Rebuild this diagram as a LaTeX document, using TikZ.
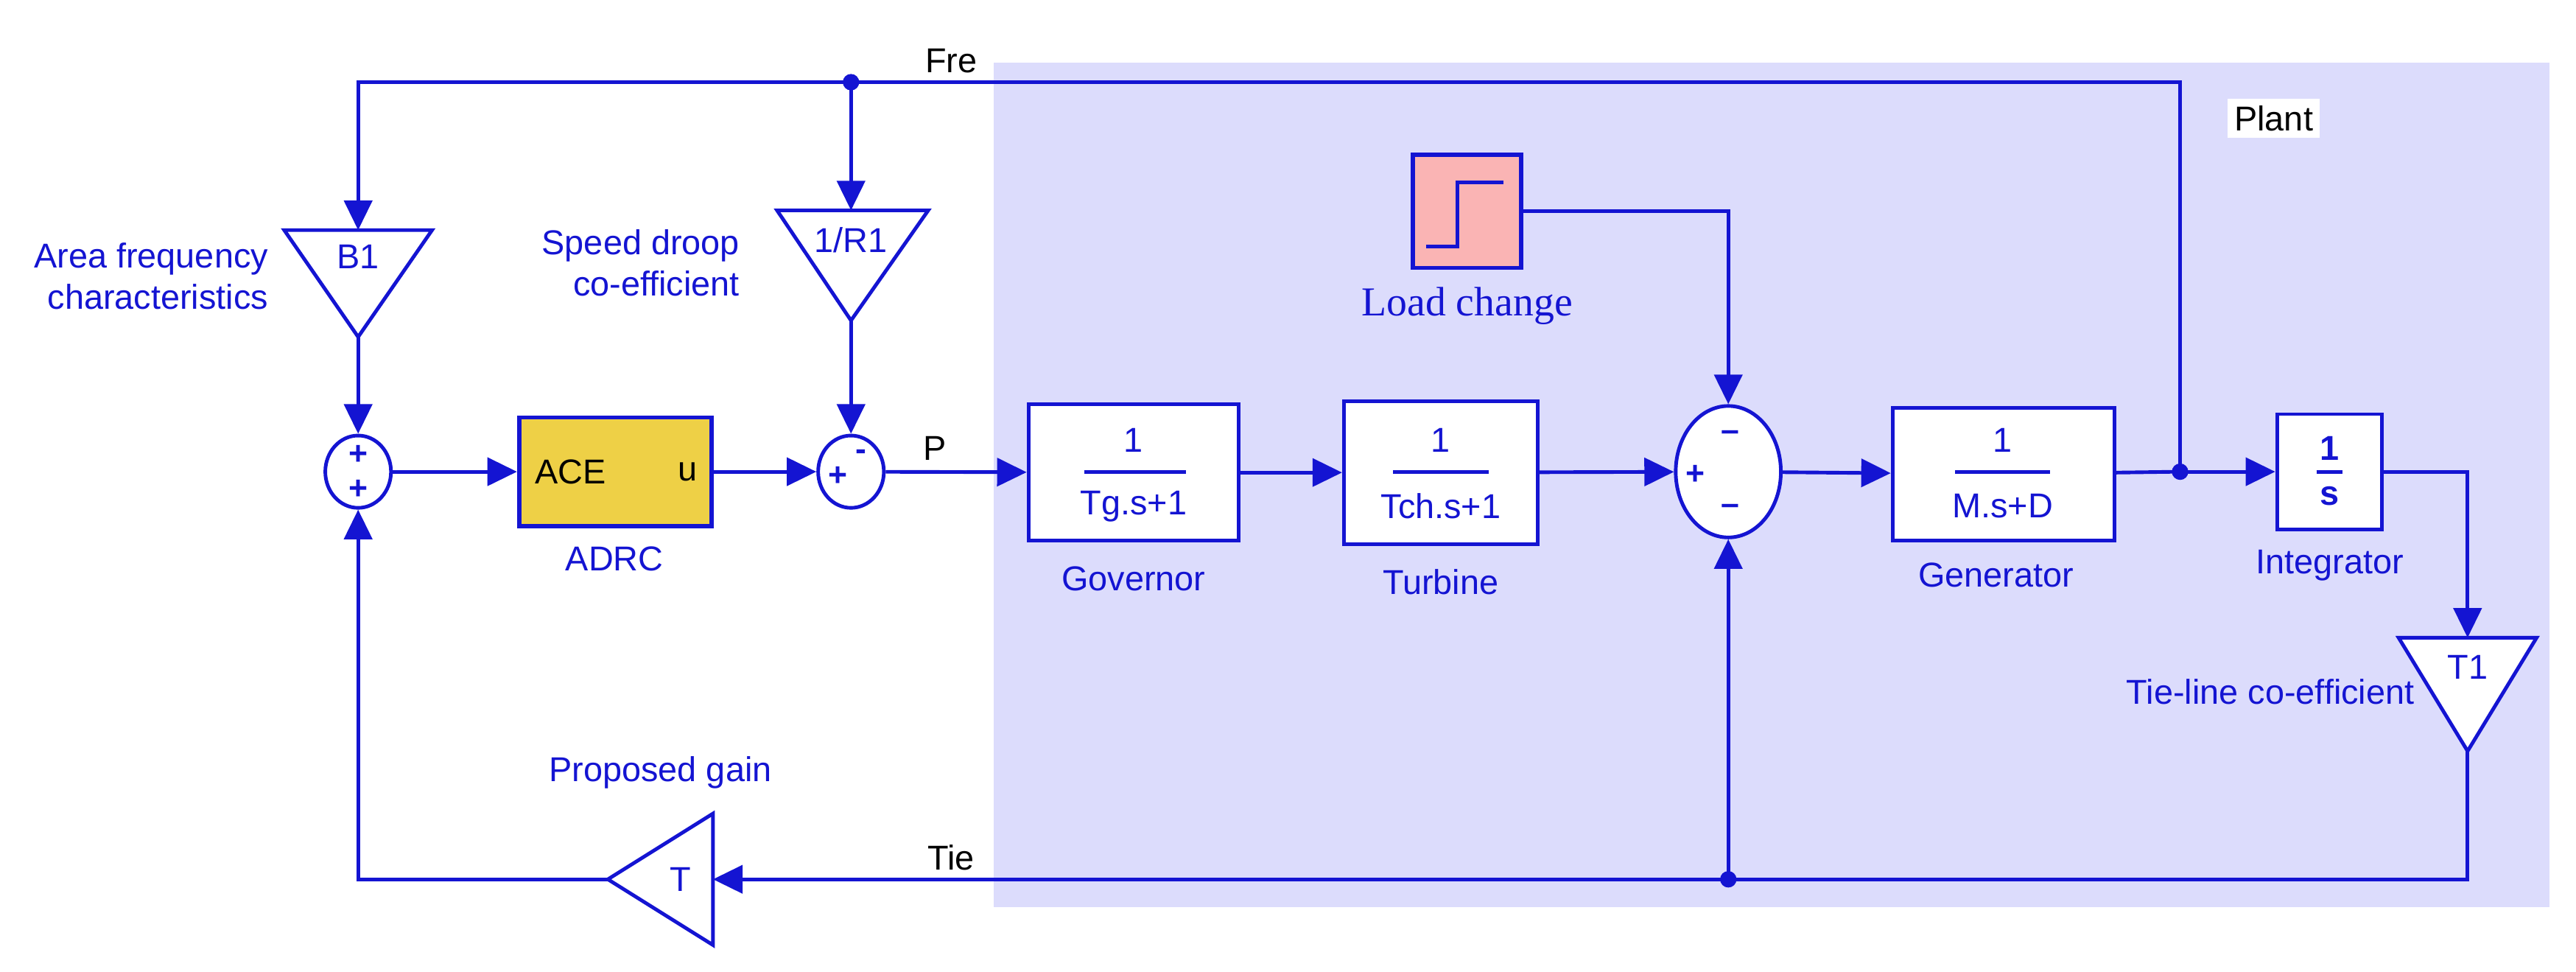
\documentclass[tikz,border=0pt]{standalone}
\usepackage{fontspec}
\setmainfont{Liberation Sans}
\newfontfamily\serifx{Liberation Serif}
\usetikzlibrary{shapes.geometric,arrows.meta}
\definecolor{bl}{RGB}{20,20,210}
\definecolor{plant}{RGB}{220,220,252}
\definecolor{adrc}{RGB}{238,208,70}
\definecolor{pinkx}{RGB}{250,180,180}
\begin{document}
\begin{tikzpicture}[x=0.5pt,y=-0.5pt,
  line width=1.1pt,
  every node/.style={font=\fontsize{10.5}{12.5}\selectfont},
  w/.style={draw=bl,line width=1.1pt},
  arr/.style={draw=bl,line width=1.1pt,-{Triangle[length=9pt,width=8.5pt]}},
  lbl/.style={text=bl,font=\fontsize{10.5}{12.5}\selectfont},
  pm/.style={text=bl,font=\bfseries\fontsize{10}{10}\selectfont,inner sep=0pt},
  blk/.style={draw=bl,fill=white,line width=1.1pt,text=bl,inner sep=0pt},
  dot/.style={circle,fill=bl,inner sep=0pt,minimum size=5pt}]
\useasboundingbox (0,0) rectangle (1568,591);
\fill[plant] (605,38) rectangle (1552,552);
\node[fill=white,inner sep=2pt] (plantl) at (1384,72) {Plant};
% gains
\draw[w,fill=white] (173,140) -- (263,140) -- (218,205) -- cycle;
\node[lbl] (b1l) at (218,156) {B1};
\coordinate (b1t) at (218,140); \coordinate (b1b) at (218,205);
\draw[w,fill=white] (473,128) -- (565,128) -- (518,195) -- cycle;
\node[lbl] (r1l) at (518,146) {1/R1};
\coordinate (r1t) at (518,128); \coordinate (r1b) at (518,195);
% sums
\node[draw=bl,ellipse,minimum width=20pt,minimum height=22pt,inner sep=0pt,line width=1.1pt] (s1) at (218,287) {};
\node[pm] (s1a) at (218,277) {+};
\node[pm] (s1b) at (218,298) {+};
\node[draw=bl,fill=adrc,line width=1.3pt,minimum width=58.5pt,minimum height=33pt,inner sep=0pt] (adrc) at (374.5,287) {};
\node[anchor=west] (ace) at (318,287) {ACE};
\node[anchor=east] (uu) at (432,287) {u};
\node[lbl] (adrcl) at (374,340) {ADRC};
\node[draw=bl,ellipse,minimum width=20pt,minimum height=22pt,inner sep=0pt,line width=1.1pt] (s2) at (518,287) {};
\node[pm] (s2a) at (510,290) {+};
\node[pm] (s2b) at (524,277) {-};
\node (pl) at (569,273) {P};
% governor
\node[blk,minimum width=64pt,minimum height=41.5pt] (gov) at (690,287.5) {};
\node[lbl] (g1) at (690,268) {1}; \draw[w] (660,287) -- (722,287); \node[lbl] (g2) at (690,308) {Tg.s+1};
\node[lbl] (gl) at (690,352) {Governor};
% turbine
\node[blk,minimum width=59pt,minimum height=43.5pt] (tur) at (877,287.5) {};
\node[lbl] (t1) at (877,268) {1}; \draw[w] (848,287) -- (906,287); \node[lbl] (t2) at (877,308) {Tch.s+1};
\node[lbl] (tl2) at (877,354) {Turbine};
% sum3
\node[draw=bl,fill=white,ellipse,minimum width=32pt,minimum height=40pt,inner sep=0pt,line width=1.1pt] (s3) at (1052,287) {};
\node[pm] (s3a) at (1032,289) {+};
\node[pm] (s3b) at (1053,265) {--};
\node[pm] (s3c) at (1053,310) {--};
% generator
\node[blk,minimum width=67.5pt,minimum height=40.5pt] (gen) at (1219.5,288.5) {};
\node[lbl] (ge1) at (1219,268) {1}; \draw[w] (1190,287) -- (1248,287); \node[lbl] (ge2) at (1219,308) {M.s+D};
\node[lbl] (genl) at (1215,350) {Generator};
% integrator
\node[blk,minimum width=32pt,minimum height=35pt] (int) at (1418,287) {};
\node[lbl,font=\bfseries\fontsize{10.5}{12}\selectfont] (i1) at (1418,273) {1}; \draw[w] (1410,287) -- (1426,287); \node[lbl,font=\bfseries\fontsize{10.5}{12}\selectfont] (i2) at (1418,302) {s};
\node[lbl] (intl) at (1418,344) {Integrator};
% T1
\draw[w,fill=white] (1460,388) -- (1544,388) -- (1502,457) -- cycle;
\node[lbl] (t1l) at (1502,406) {T1};
\coordinate (t1t) at (1502,388); \coordinate (t1b) at (1502,457);
\node[lbl] (tiel) at (1382,421) {Tie-line co-efficient};
% T
\draw[w,fill=white] (434,495) -- (434,575) -- (370,535) -- cycle;
\node[lbl] (tg) at (414,535) {T};
\coordinate (tr) at (434,535); \coordinate (tlft) at (370,535);
\node[lbl] (pgl) at (402,470) {Proposed gain};
\node (tiet) at (579,522) {Tie};
\node (fret) at (579,37) {Fre};
\node[lbl,align=right] (afc) at (92,168) {Area frequency\\characteristics};
\node[lbl,align=right] (sdc) at (390,160) {Speed droop\\co-efficient};
% load change
\node[draw=bl,fill=pinkx,line width=1.3pt,minimum width=33pt,minimum height=34.5pt,inner sep=0pt] (load) at (893,128.5) {};
\draw[w] (868,150) -- (887,150) -- (887,111) -- (915,111);
\node[text=bl,font=\serifx\fontsize{12.5}{14}\selectfont] (loadl) at (893,186) {Load change};
% junctions
\node[dot] (jf) at (518,50) {};
\node[dot] (jg) at (1327,287) {};
\node[dot] (jt) at (1052,535) {};
% connectors
\draw[arr] (jg.center) |- (jf.center) -| (b1t);
\draw[arr] (jf.center) -- (r1t);
\draw[arr] (b1b) -- (s1);
\draw[arr] (r1b) -- (s2);
\draw[arr] (s1) -- (adrc);
\draw[arr] (adrc) -- (s2);
\draw[arr] (s2) -- (gov);
\draw[arr] (gov) -- (tur);
\draw[arr] (tur) -- (s3);
\draw[arr] (s3) -- (gen);
\draw[w] (gen) -- (jg.center);
\draw[arr] (jg.center) -- (int);
\draw[arr] (int.east) -- (1502,287) -- (t1t);
\draw[arr] (load.east) -| (s3.north);
\draw[arr] (t1b) |- (tr);
\draw[arr] (jt.center) -- (s3.south);
\draw[arr] (tlft) -| (s1.south);
\end{tikzpicture}
\end{document}
